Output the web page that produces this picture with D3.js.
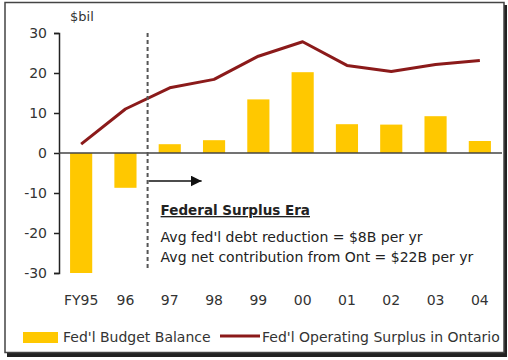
<!DOCTYPE html>
<html>
<head>
<meta charset="utf-8">
<script src="https://cdn.jsdelivr.net/npm/d3@7"></script>
<style>
  body { margin: 0; background: #fff; }
  text { font-family: "DejaVu Sans", Verdana, sans-serif; fill: #333; }
</style>
</head>
<body>
<svg width="508" height="360"></svg>
<script>
var years = ["FY95", "96", "97", "98", "99", "00", "01", "02", "03", "04"];
var budgetBalance = [-30, -8.7, 2.2, 3.2, 13.4, 20.2, 7.2, 7.1, 9.2, 3];
var opSurplus = [2.2, 11, 16.3, 18.4, 24.2, 27.8, 21.9, 20.4, 22.1, 23.1];
var yTicks = [-30, -20, -10, 0, 10, 20, 30];

var svg = d3.select("svg"),
    margin = {top: 33, right: 5, bottom: 87, left: 59},
    width = +svg.attr("width") - margin.left - margin.right,
    height = +svg.attr("height") - margin.top - margin.bottom;

// frame with shadow
svg.append("rect").attr("x", 7).attr("y", 5).attr("width", 500).attr("height", 352).style("fill", "#222");
svg.append("rect").attr("x", 5).attr("y", 2.5).attr("width", 499).attr("height", 350)
    .style("fill", "#fff").style("stroke", "#444").style("stroke-width", 1.5);

var g = svg.append("g").attr("transform", "translate(" + margin.left + "," + margin.top + ")");

var x = d3.scaleBand().domain(years).range([0, width - 1]).paddingInner(0.5).paddingOuter(0.25);
var y = d3.scaleLinear().domain([-30, 30]).range([height, 0]);

// bars
g.selectAll(".bar").data(budgetBalance).enter().append("rect")
    .attr("x", function(d, i) { return x(years[i]); })
    .attr("y", function(d) { return y(Math.max(0, d)); })
    .attr("width", x.bandwidth())
    .attr("height", function(d) { return Math.abs(y(d) - y(0)); })
    .style("fill", "#ffc800");

// y axis
var yAxis = g.append("g").call(d3.axisLeft(y).tickValues(yTicks).tickSize(5).tickPadding(7)
    .tickFormat(function(d) { return String(d); }));
yAxis.select(".domain").style("stroke", "#222").style("stroke-width", 1.5);
yAxis.selectAll("line").style("stroke", "#222").style("stroke-width", 1.5);
yAxis.selectAll("text").style("font-size", "14px").style("fill", "#333");

// zero line
g.append("line").attr("x1", 0).attr("x2", width - 1).attr("y1", y(0)).attr("y2", y(0))
    .style("stroke", "#444").style("stroke-width", 1.5);

// x labels
g.selectAll(".xl").data(years).enter().append("text")
    .attr("x", function(d) { return x(d) + x.bandwidth() / 2; })
    .attr("y", height + 32)
    .attr("text-anchor", "middle")
    .style("font-size", "14px")
    .text(function(d) { return d; });

// line
var line = d3.line()
    .x(function(d, i) { return x(years[i]) + x.bandwidth() / 2; })
    .y(function(d) { return y(d); });
g.append("path").datum(opSurplus).attr("d", line)
    .style("fill", "none").style("stroke", "#8b1a1a").style("stroke-width", 3).style("stroke-linejoin", "round");

// $bil label
g.append("text").attr("x", 11).attr("y", -12).style("font-size", "13px").text("$bil");

// dashed divider
var divX = (x("96") + x.bandwidth() + x("97")) / 2;
g.append("line").attr("x1", divX).attr("x2", divX).attr("y1", y(30)).attr("y2", y(-29.3))
    .style("stroke", "#555").style("stroke-width", 2).style("stroke-dasharray", "4,3");

// arrow
svg.append("defs").append("marker").attr("id", "arr").attr("viewBox", "0 0 10 10")
    .attr("refX", 10).attr("refY", 5).attr("markerWidth", 11).attr("markerHeight", 11)
    .attr("markerUnits", "userSpaceOnUse").attr("orient", "auto")
    .append("path").attr("d", "M0,0L10,5L0,10z").style("fill", "#111");
g.append("line").attr("x1", divX + 1).attr("x2", divX + 54).attr("y1", y(-7)).attr("y2", y(-7))
    .style("stroke", "#111").style("stroke-width", 1.5).attr("marker-end", "url(#arr)");

// annotation
var ann = g.append("g").attr("transform", "translate(" + (divX + 13) + "," + 0 + ")");
ann.append("text").attr("y", 182).style("font-size", "13.5px").style("font-weight", "bold")
    .style("text-decoration", "underline").style("fill", "#222").text("Federal Surplus Era");
ann.append("text").attr("y", 209).style("font-size", "14px").style("fill", "#222").text("Avg fed'l debt reduction = $8B per yr");
ann.append("text").attr("y", 229).style("font-size", "14px").style("fill", "#222").text("Avg net contribution from Ont = $22B per yr");

// legend
var lg = svg.append("g");
lg.append("rect").attr("x", 23).attr("y", 332).attr("width", 35).attr("height", 11).style("fill", "#ffc800");
lg.append("text").attr("x", 63).attr("y", 342).style("font-size", "14px").text("Fed'l Budget Balance");
lg.append("line").attr("x1", 220).attr("x2", 260).attr("y1", 336).attr("y2", 336)
    .style("stroke", "#8b1a1a").style("stroke-width", 3);
lg.append("text").attr("x", 262).attr("y", 342).style("font-size", "14px").text("Fed'l Operating Surplus in Ontario");
</script>
</body>
</html>
